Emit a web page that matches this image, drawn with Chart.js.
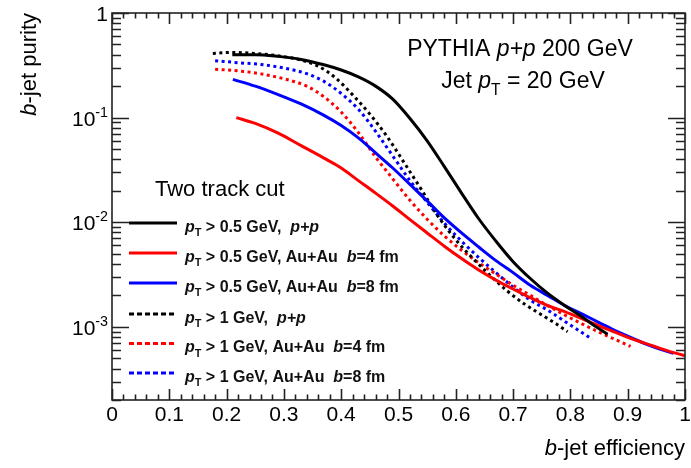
<!DOCTYPE html>
<html>
<head>
<meta charset="utf-8">
<script src="https://cdn.jsdelivr.net/npm/chart.js@4/dist/chart.umd.min.js"></script>
<style>
  html, body { margin: 0; padding: 0; background: #fff; }
  canvas { display: block; }
</style>
</head>
<body>
<canvas id="chart" width="691" height="468"></canvas>
<script>
// b-jet purity vs efficiency, two track cut, PYTHIA p+p 200 GeV, jet pT = 20 GeV

// pT > 0.5 GeV, p+p
const effPp05 = [0.21, 0.25, 0.29, 0.33, 0.37, 0.40, 0.43, 0.46, 0.49, 0.52, 0.55, 0.58, 0.61, 0.64, 0.67, 0.70, 0.73, 0.76, 0.79, 0.82, 0.845, 0.865];
const purPp05 = [0.40, 0.40, 0.385, 0.36, 0.32, 0.285, 0.245, 0.20, 0.15, 0.098, 0.06, 0.034, 0.019, 0.0108, 0.0066, 0.0042, 0.0029, 0.0021, 0.0016, 0.00125, 0.001, 0.00085];

// pT > 0.5 GeV, Au+Au b=4 fm
const effAu4_05 = [0.217, 0.25, 0.29, 0.33, 0.37, 0.40, 0.43, 0.46, 0.49, 0.52, 0.55, 0.58, 0.61, 0.64, 0.67, 0.70, 0.73, 0.76, 0.79, 0.82, 0.85, 0.88, 0.91, 0.94, 0.97, 1.0];
const purAu4_05 = [0.10, 0.088, 0.071, 0.054, 0.041, 0.033, 0.025, 0.019, 0.0143, 0.0106, 0.0079, 0.0059, 0.0045, 0.0035, 0.0028, 0.0023, 0.0019, 0.0016, 0.0014, 0.0012, 0.00102, 0.00088, 0.00076, 0.00067, 0.00059, 0.00053];

// pT > 0.5 GeV, Au+Au b=8 fm
const effAu8_05 = [0.211, 0.25, 0.29, 0.33, 0.37, 0.40, 0.43, 0.46, 0.49, 0.52, 0.55, 0.58, 0.61, 0.64, 0.67, 0.70, 0.73, 0.76, 0.79, 0.82, 0.85, 0.88, 0.91, 0.94, 0.97, 0.98];
const purAu8_05 = [0.232, 0.20, 0.166, 0.135, 0.105, 0.084, 0.064, 0.046, 0.033, 0.023, 0.016, 0.011, 0.0079, 0.0058, 0.0043, 0.0033, 0.0025, 0.002, 0.0016, 0.00133, 0.0011, 0.00091, 0.00077, 0.00066, 0.00058, 0.00056];

// pT > 1 GeV, p+p
const effPp1 = [0.176, 0.21, 0.25, 0.29, 0.33, 0.36, 0.39, 0.42, 0.45, 0.48, 0.51, 0.54, 0.57, 0.60, 0.63, 0.66, 0.69, 0.72, 0.75, 0.775, 0.795];
const purPp1 = [0.41, 0.42, 0.41, 0.39, 0.355, 0.31, 0.24, 0.165, 0.108, 0.066, 0.037, 0.0205, 0.0112, 0.0068, 0.0045, 0.0031, 0.0022, 0.00165, 0.0013, 0.00107, 0.0009];

// pT > 1 GeV, Au+Au b=4 fm
const effAu4_1 = [0.18, 0.22, 0.26, 0.30, 0.34, 0.37, 0.40, 0.43, 0.46, 0.49, 0.52, 0.55, 0.58, 0.61, 0.64, 0.67, 0.70, 0.73, 0.76, 0.79, 0.82, 0.85, 0.88, 0.905];
const purAu4_1 = [0.29, 0.28, 0.262, 0.235, 0.20, 0.158, 0.113, 0.072, 0.042, 0.026, 0.0162, 0.0107, 0.0074, 0.0054, 0.0041, 0.0032, 0.0025, 0.002, 0.0016, 0.0013, 0.00107, 0.00089, 0.00075, 0.00065];

// pT > 1 GeV, Au+Au b=8 fm
const effAu8_1 = [0.18, 0.22, 0.26, 0.30, 0.34, 0.37, 0.40, 0.43, 0.46, 0.49, 0.52, 0.55, 0.58, 0.61, 0.64, 0.67, 0.70, 0.73, 0.76, 0.79, 0.815, 0.838];
const purAu8_1 = [0.35, 0.335, 0.322, 0.298, 0.263, 0.222, 0.17, 0.12, 0.074, 0.043, 0.025, 0.0155, 0.0098, 0.0066, 0.0046, 0.0033, 0.0024, 0.0018, 0.00145, 0.00113, 0.00092, 0.00076];

const xTicks = [0, 0.1, 0.2, 0.3, 0.4, 0.5, 0.6, 0.7, 0.8, 0.9, 1];
const xTickLabels = ['0', '0.1', '0.2', '0.3', '0.4', '0.5', '0.6', '0.7', '0.8', '0.9', '1'];
const yDecades = [1, 0.1, 0.01, 0.001];
const yDecadeExps = ['', '-1', '-2', '-3'];

const FAM = '"Liberation Sans", Arial, Helvetica, sans-serif';

function pts(xs, ys) {
  return xs.map((x, i) => ({ x: x, y: ys[i] }));
}

function setFont(ctx, size, bold, italic) {
  ctx.font = (italic ? 'italic ' : '') + (bold ? 'bold ' : '') + size + 'px ' + FAM;
}

// rich text: parts like {t:'p', i:true} or {t:'T', sub:true}
function richWidth(ctx, parts, size, bold) {
  let w = 0;
  parts.forEach(p => {
    const s = (p.sub || p.sup) ? size * 0.68 : size;
    setFont(ctx, s, bold, p.i);
    w += ctx.measureText(p.t).width;
  });
  return w;
}

function drawRich(ctx, parts, x, y, size, bold, align) {
  let cx = x;
  if (align === 'right') cx = x - richWidth(ctx, parts, size, bold);
  if (align === 'center') cx = x - richWidth(ctx, parts, size, bold) / 2;
  ctx.textBaseline = 'alphabetic';
  ctx.textAlign = 'left';
  parts.forEach(p => {
    let s = size, dy = 0;
    if (p.sub) { s = size * 0.68; dy = size * 0.3; }
    if (p.sup) { s = size * 0.68; dy = -size * 0.42; }
    setFont(ctx, s, bold, p.i);
    ctx.fillText(p.t, cx, y + dy);
    cx += ctx.measureText(p.t).width;
  });
}

const legendRows = [
  { color: '#000000', dash: [], parts: [{ t: 'p', i: true }, { t: 'T', sub: true }, { t: ' > 0.5 GeV,  ' }, { t: 'p+p', i: true }] },
  { color: '#ff0000', dash: [], parts: [{ t: 'p', i: true }, { t: 'T', sub: true }, { t: ' > 0.5 GeV, Au+Au  ' }, { t: 'b', i: true }, { t: '=4 fm' }] },
  { color: '#0000ff', dash: [], parts: [{ t: 'p', i: true }, { t: 'T', sub: true }, { t: ' > 0.5 GeV, Au+Au  ' }, { t: 'b', i: true }, { t: '=8 fm' }] },
  { color: '#000000', dash: [5, 3], parts: [{ t: 'p', i: true }, { t: 'T', sub: true }, { t: ' > 1 GeV,  ' }, { t: 'p+p', i: true }] },
  { color: '#ff0000', dash: [5, 3], parts: [{ t: 'p', i: true }, { t: 'T', sub: true }, { t: ' > 1 GeV, Au+Au  ' }, { t: 'b', i: true }, { t: '=4 fm' }] },
  { color: '#0000ff', dash: [5, 3], parts: [{ t: 'p', i: true }, { t: 'T', sub: true }, { t: ' > 1 GeV, Au+Au  ' }, { t: 'b', i: true }, { t: '=8 fm' }] }
];

// frame, inward ticks, labels, texts and legend
const framePlugin = {
  id: 'frame',
  afterDraw(chart) {
    const ctx = chart.ctx;
    const a = chart.chartArea;
    const xs = chart.scales.x, ys = chart.scales.y;
    ctx.save();
    ctx.strokeStyle = '#222';
    ctx.fillStyle = '#000';
    ctx.lineWidth = 1.6;
    ctx.setLineDash([]);
    ctx.strokeRect(a.left, a.top, a.right - a.left, a.bottom - a.top);

    // x ticks every 0.02, long every 0.1
    ctx.beginPath();
    for (let k = 0; k <= 50; k++) {
      const px = Math.round(xs.getPixelForValue(k / 50)) + 0.5;
      const len = k % 5 === 0 ? 11 : 5.5;
      ctx.moveTo(px, a.bottom); ctx.lineTo(px, a.bottom - len);
      ctx.moveTo(px, a.top); ctx.lineTo(px, a.top + len);
    }
    // y log ticks
    for (let e = -4; e <= 0; e++) {
      for (let m = 1; m <= 9; m++) {
        const v = m * Math.pow(10, e);
        if (v < ys.min * 0.999 || v > ys.max * 1.001) continue;
        const py = Math.round(ys.getPixelForValue(v)) + 0.5;
        const len = m === 1 ? 17 : 9;
        ctx.moveTo(a.left, py); ctx.lineTo(a.left + len, py);
        ctx.moveTo(a.right, py); ctx.lineTo(a.right - len, py);
      }
    }
    ctx.stroke();

    // x tick labels
    xTicks.forEach((v, i) => {
      drawRich(ctx, [{ t: xTickLabels[i] }], xs.getPixelForValue(v), a.bottom + 21, 21, false, 'center');
    });
    // y tick labels
    yDecades.forEach((v, i) => {
      const py = ys.getPixelForValue(v);
      const parts = yDecadeExps[i] === '' ? [{ t: '1' }] : [{ t: '10' }, { t: yDecadeExps[i], sup: true }];
      drawRich(ctx, parts, 108, py + 8, 21, false, 'right');
    });

    // axis titles
    drawRich(ctx, [{ t: 'b', i: true }, { t: '-jet efficiency' }], a.right, 455, 22, false, 'right');
    ctx.save();
    ctx.translate(36, a.top);
    ctx.rotate(-Math.PI / 2);
    drawRich(ctx, [{ t: 'b', i: true }, { t: '-jet purity' }], 0, 0, 22, false, 'right');
    ctx.restore();

    // header texts
    drawRich(ctx, [{ t: 'PYTHIA ' }, { t: 'p+p', i: true }, { t: ' 200 GeV' }], 520, 56, 23, false, 'center');
    drawRich(ctx, [{ t: 'Jet ' }, { t: 'p', i: true }, { t: 'T', sub: true }, { t: ' = 20 GeV' }], 523, 88, 23, false, 'center');

    // legend
    drawRich(ctx, [{ t: 'Two track cut' }], 155, 196, 22, false, 'left');
    const rowY = [223, 253, 283, 314, 343.5, 373];
    legendRows.forEach((r, i) => {
      ctx.beginPath();
      ctx.strokeStyle = r.color;
      ctx.lineWidth = 3;
      ctx.setLineDash(r.dash);
      ctx.moveTo(129, rowY[i]);
      ctx.lineTo(177, rowY[i]);
      ctx.stroke();
      ctx.setLineDash([]);
      ctx.fillStyle = '#111';
      drawRich(ctx, r.parts, 185, rowY[i] + 8.5, 16, true, 'left');
    });
    ctx.restore();
  }
};

function series(xs, ys, color, dotted) {
  return {
    data: pts(xs, ys),
    borderColor: color,
    borderWidth: 3,
    borderDash: dotted ? [3, 3.5] : [],
    pointRadius: 0,
    fill: false,
    cubicInterpolationMode: 'monotone'
  };
}

new Chart(document.getElementById('chart').getContext('2d'), {
  type: 'line',
  data: {
    datasets: [
      series(effPp05, purPp05, '#000000', false),
      series(effAu4_05, purAu4_05, '#ff0000', false),
      series(effAu8_05, purAu8_05, '#0000ff', false),
      series(effPp1, purPp1, '#000000', true),
      series(effAu4_1, purAu4_1, '#ff0000', true),
      series(effAu8_1, purAu8_1, '#0000ff', true)
    ]
  },
  options: {
    responsive: false,
    animation: false,
    parsing: false,
    layout: { padding: { left: 112, top: 13, right: 6, bottom: 68 } },
    scales: {
      x: { type: 'linear', min: 0, max: 1, display: false },
      y: { type: 'logarithmic', min: 2e-4, max: 1, display: false }
    },
    plugins: {
      legend: { display: false },
      tooltip: { enabled: false }
    }
  },
  plugins: [framePlugin]
});
</script>
</body>
</html>
